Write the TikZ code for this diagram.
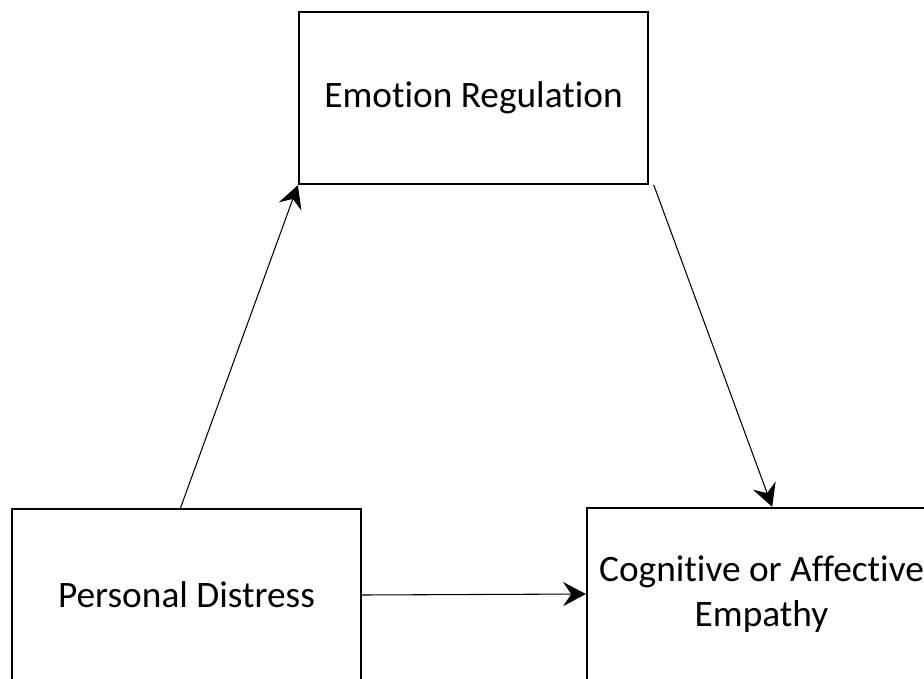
\documentclass[tikz,border=0pt]{standalone}
\usepackage{fontspec}
\setmainfont{Carlito}[Ligatures=NoCommon]
\usetikzlibrary{positioning,arrows.meta}

\begin{document}
\begin{tikzpicture}[x=0.75pt,y=-0.75pt,>={Stealth[length=17pt,width=18pt,inset=6pt]},
    font=\fontsize{28}{34}\selectfont,
    box/.style={draw,line width=1.7pt,fill=white,minimum width=261.75pt,minimum height=129pt,align=center}]
  \clip (0,0) rectangle (924,678);
  \node[box] (emo) at (473.5,98) {Emotion Regulation};
  \node[box] (pd) at (186.5,595) {Personal Distress};
  \node[box] (cae) at (761.5,594) {Cognitive or Affective\\Empathy};
  \draw[->,line width=0.8pt] ([xshift=-4.5pt]pd.north) -- (emo.south west);
  \draw[->,line width=0.8pt] ([xshift=3.5pt]emo.south east) -- ([xshift=8pt]cae.north);
  \draw[->,line width=0.8pt] (pd.east) -- (cae.west);
\end{tikzpicture}
\end{document}
